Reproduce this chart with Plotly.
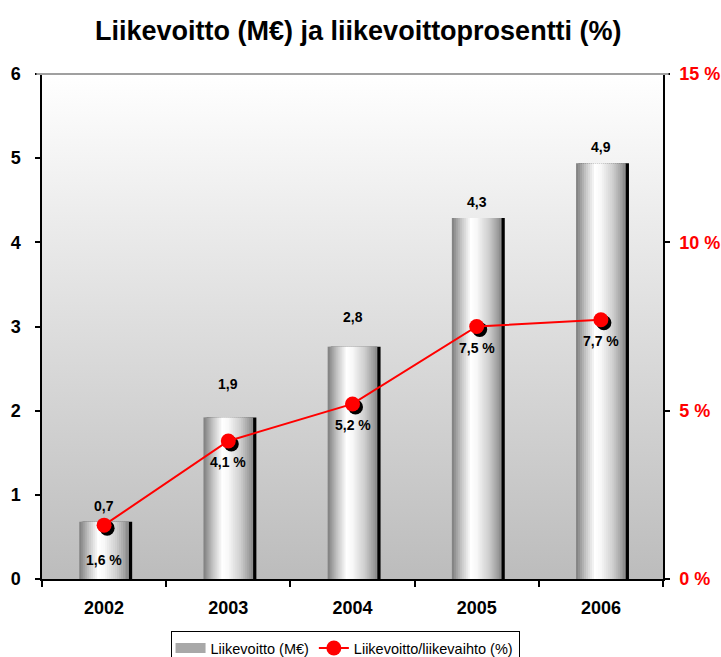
import base64
import plotly.graph_objects as go

# ---------------- data ----------------
years = ["2002", "2003", "2004", "2005", "2006"]
profit_meur = [0.68, 1.92, 2.76, 4.29, 4.94]          # Liikevoitto (M€)
profit_labels = ["0,7", "1,9", "2,8", "4,3", "4,9"]
margin_pct = [1.6, 4.1, 5.2, 7.5, 7.7]                 # Liikevoitto/liikevaihto (%)
margin_labels = ["1,6 %", "4,1 %", "5,2 %", "7,5 %", "7,7 %"]
left_ticks = [0, 1, 2, 3, 4, 5, 6]
right_ticks = [0, 5, 10, 15]
right_tick_labels = ["0 %", "5 %", "10 %", "15 %"]

FONT = "Arial, Liberation Sans, sans-serif"

# ---------------- style helpers ----------------
BAR_W = 0.40
N_STRIPS = 25
profile = [(0.0, 124), (0.18, 192), (0.38, 255), (0.5, 248), (0.75, 205), (1.0, 136)]


def shade(t):
    for (t0, v0), (t1, v1) in zip(profile[:-1], profile[1:]):
        if t0 <= t <= t1:
            v = v0 + (v1 - v0) * (t - t0) / (t1 - t0)
            v = int(round(v))
            return f"rgb({v},{v},{v})"
    return "rgb(136,136,136)"


fig = go.Figure()

# bar shadow (black, to the right)
fig.add_trace(go.Bar(
    x=years, y=profit_meur, width=BAR_W, offset=-BAR_W / 2 + 0.026,
    marker=dict(color="black", line=dict(width=0)),
    showlegend=False, hoverinfo="skip",
))

# cylindrical gradient bars built from vertical strips
sw = BAR_W / N_STRIPS
for i in range(N_STRIPS):
    t = (i + 0.5) / N_STRIPS
    w = sw * 1.6 if i < N_STRIPS - 1 else sw
    fig.add_trace(go.Bar(
        x=years, y=profit_meur, width=w, offset=-BAR_W / 2 + i * sw,
        marker=dict(color=shade(t), line=dict(width=0)),
        name="Liikevoitto (M€)",
        showlegend=False,
        legendgroup="bars",
        hoverinfo="skip",
    ))

# legend key for the bars (wide grey swatch)
fig.add_trace(go.Scatter(
    x=[None], y=[None], mode="lines", name="Liikevoitto (M€)",
    line=dict(color="#a8a8a8", width=10), legendgroup="bars",
    hoverinfo="skip",
))

# marker shadows on an overlaid, slightly shifted axis pair
dx = 3 / 124.0
dy = 3 / 505.0 * 15
fig.add_trace(go.Scatter(
    x=years, y=margin_pct, mode="markers", xaxis="x2", yaxis="y3",
    marker=dict(size=15, color="black"),
    showlegend=False, hoverinfo="skip",
))

# profit margin line (drawn on a hidden twin of the right axis, above shadows)
fig.add_trace(go.Scatter(
    x=years, y=margin_pct, mode="lines+markers", xaxis="x3", yaxis="y4",
    name="Liikevoitto/liikevaihto (%)",
    line=dict(color="#ff0000", width=2),
    marker=dict(size=15, color="#ff0000"),
))

# invisible trace to anchor the visible right axis
fig.add_trace(go.Scatter(
    x=years, y=margin_pct, mode="markers", yaxis="y2",
    marker=dict(size=1, color="rgba(0,0,0,0)"),
    showlegend=False, hoverinfo="skip",
))

label_font = dict(family=FONT, size=14, color="black", weight="bold")

# bar value labels
bar_shifts = {1: 33, 2: 30}
for i, (v, lab) in enumerate(zip(profit_meur, profit_labels)):
    fig.add_annotation(
        x=i, y=v, xref="x", yref="y", text=lab, showarrow=False,
        yshift=bar_shifts.get(i, 16), font=label_font,
    )

# percentage labels
pct_shifts = {0: -35}
for i, (v, lab) in enumerate(zip(margin_pct, margin_labels)):
    fig.add_annotation(
        x=i, y=v, xref="x", yref="y2", text=lab, showarrow=False,
        yshift=pct_shifts.get(i, -21), font=label_font,
    )

# background gradient of the plot area
svg = (
    '<svg xmlns="http://www.w3.org/2000/svg" width="100" height="100" '
    'viewBox="0 0 100 100" preserveAspectRatio="none">'
    '<defs><linearGradient id="g" x1="0" y1="0" x2="0" y2="1">'
    '<stop offset="0" stop-color="#ffffff"/>'
    '<stop offset="1" stop-color="#bcbcbc"/>'
    '</linearGradient></defs>'
    '<rect width="100" height="100" fill="url(#g)"/></svg>'
)
src = "data:image/svg+xml;base64," + base64.b64encode(svg.encode()).decode()

axis_common = dict(
    ticks="outside", tickcolor="black", tickwidth=1.5,
    showline=True, linecolor="black", linewidth=1.5,
    showgrid=False, zeroline=False,
)

fig.update_layout(
    width=721, height=657,
    margin=dict(l=42, r=58, t=74, b=78, autoexpand=False),
    paper_bgcolor="white",
    plot_bgcolor="rgba(0,0,0,0)",
    barmode="overlay",
    font=dict(family=FONT, color="black"),
    title=dict(
        text="Liikevoitto (M€) ja liikevoittoprosentti (%)",
        x=0.497, xanchor="center", y=0.954, yanchor="middle", yref="container",
        font=dict(family=FONT, size=27, color="black", weight="bold"),
    ),
    images=[dict(source=src, xref="paper", yref="paper", x=0, y=1,
                 sizex=1, sizey=1, sizing="stretch", layer="below")],
    xaxis=dict(
        type="category", range=[-0.5, 4.5], tickson="boundaries", ticklen=6,
        tickfont=dict(family=FONT, size=18, color="black", weight="bold"),
        ticklabelstandoff=12, **axis_common,
    ),
    yaxis=dict(
        range=[0, 6], tickvals=left_ticks, ticklen=5,
        tickfont=dict(family=FONT, size=18, color="black", weight="bold"),
        ticklabelstandoff=11, **axis_common,
    ),
    yaxis2=dict(
        overlaying="y", side="right", range=[0, 15],
        tickvals=right_ticks, ticktext=right_tick_labels, ticklen=5,
        tickfont=dict(family=FONT, size=18, color="#ff0000", weight="bold"),
        ticklabelstandoff=6, **axis_common,
    ),
    xaxis2=dict(overlaying="x", type="category", range=[-0.5 - dx, 4.5 - dx],
                visible=False),
    yaxis3=dict(overlaying="y", range=[dy, 15 + dy], visible=False),
    xaxis3=dict(overlaying="x", type="category", range=[-0.5, 4.5], visible=False),
    yaxis4=dict(overlaying="y", range=[0, 15], visible=False),
    legend=dict(
        orientation="h", x=0.488, xanchor="center", y=-0.103, yanchor="top",
        bordercolor="black", borderwidth=1, bgcolor="white",
        font=dict(family=FONT, size=14.5, color="black"),
    ),
    shapes=[dict(type="line", xref="paper", yref="paper", x0=-0.009, x1=1.009,
                 y0=1, y1=1, line=dict(color="#a0a0a0", width=2))],
)

fig.write_html("out.html", config={"displayModeBar": False},
               post_script="document.body.style.margin='0px';")
